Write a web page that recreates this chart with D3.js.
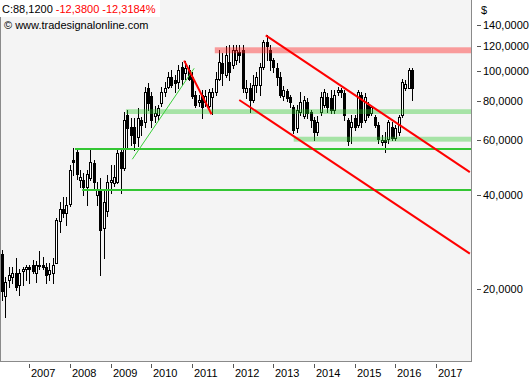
<!DOCTYPE html>
<html><head><meta charset="utf-8">
<script src="https://cdn.jsdelivr.net/npm/d3@7"></script>
<style>
body{margin:0;background:#fff;}
svg{display:block;font-family:"Liberation Sans",Arial,sans-serif;}
</style>
</head><body>
<svg id="c" width="530" height="380"></svg>
<script>
// ---- data (monthly candles, starting May 2006) ----
const firstMonth = [2006, 4];
const opens = [26.0,19.0,21.4,21.9,22.5,20.6,22.9,23.3,23.6,23.9,22.5,24.0,24.0,23.6,22.4,22.5,24.3,33.1,36.0,35.0,
37.5,51.7,55.0,44.7,44.7,42.6,45.3,50.6,40.1,41.6,31.3,35.5,44.2,43.7,44.2,55.1,48.8,72.2,66.3,66.3,
61.5,69.6,68.7,87.9,82.9,71.5,72.2,78.6,85.3,88.5,95.5,93.4,92.0,102.8,98.5,100.5,95.6,83.6,79.2,83.6,
79.2,77.1,82.3,85.5,94.1,105.8,96.9,106.6,104.3,108.2,114.8,116.5,85.5,88.1,80.6,90.0,90.0,102.8,123.6,116.5,
108.2,101.9,95.5,83.0,86.1,82.3,76.3,65.4,73.8,71.6,79.4,73.8,69.6,63.7,73.8,77.7,82.3,81.8,74.9,85.4,
86.8,84.9,69.6,66.3,70.6,67.1,83.6,69.6,77.7,73.3,71.1,67.1,59.3,60.0,60.6,66.3,61.1,63.7,72.2,87.9,
88.1,100.5];
const highs = [26.7,21.9,23.5,23.5,25.1,23.3,23.5,23.9,24.0,24.8,24.7,26.5,25.3,24.2,24.2,25.1,33.8,38.1,39.6,39.6,
49.9,56.6,56.6,48.1,47.0,48.1,55.8,51.8,44.2,45.3,41.6,46.4,49.9,49.9,55.8,55.8,74.0,74.9,70.4,70.4,
75.8,71.1,88.5,91.1,85.2,76.9,77.7,88.5,92.3,99.1,100.5,96.9,104.3,106.6,107.4,104.3,98.8,86.1,83.6,86.8,
86.8,87.5,88.1,98.8,116.5,113.9,120.0,120.9,120.9,120.9,120.9,120.9,93.4,91.3,96.9,98.8,105.8,125.4,129.9,120.9,
109.8,105.8,98.8,89.4,87.5,83.6,77.7,77.7,85.5,83.0,81.8,74.9,71.1,71.6,85.5,87.5,84.6,86.8,86.8,88.8,
88.1,86.8,70.6,72.2,72.2,86.8,85.5,84.6,79.4,77.1,72.2,68.7,62.3,63.7,69.6,68.5,67.1,72.2,94.1,93.4,
101.9,101.9];
const lows = [18.5,16.3,20.4,20.9,19.9,19.2,20.6,21.4,20.9,22.5,21.1,23.3,23.3,20.9,21.4,20.9,24.2,30.6,34.1,32.1,
36.9,46.4,45.2,42.6,40.1,37.2,44.7,41.6,37.2,22.2,25.1,34.2,40.5,42.9,43.8,40.5,48.1,56.5,58.0,55.8,
57.3,62.3,66.3,74.9,66.3,68.7,69.6,76.9,82.9,87.9,88.5,85.2,87.9,90.0,94.1,93.4,81.8,76.3,77.1,70.6,
77.1,76.3,72.5,83.6,93.4,90.0,95.5,93.4,101.9,105.1,106.6,85.5,81.8,73.8,79.4,85.5,83.6,101.1,108.2,100.5,
98.8,90.0,82.3,80.6,79.8,76.3,63.2,63.9,72.2,70.6,70.6,66.3,60.0,62.3,72.2,76.3,73.8,73.3,73.3,83.6,
82.3,69.6,58.0,58.6,64.6,66.3,66.3,68.7,71.1,72.2,66.3,58.6,58.0,55.0,58.6,60.0,60.0,62.3,71.1,86.8,
87.9,80.6];
const closes = [19.7,21.1,22.2,22.5,20.4,22.6,23.2,23.5,23.3,22.9,23.9,23.8,23.5,22.2,23.1,24.0,33.3,36.0,35.0,37.2,
48.1,51.0,46.7,45.6,42.6,46.7,51.2,44.2,41.6,30.9,38.0,44.2,44.7,45.8,54.4,48.8,69.6,65.4,62.3,58.6,
70.4,67.1,85.7,78.6,69.6,73.3,75.8,85.2,87.9,95.5,90.0,91.3,100.5,94.1,101.9,94.1,83.0,77.7,80.6,76.3,
83.0,85.5,85.5,94.1,106.6,98.5,112.3,99.3,116.5,116.5,112.3,88.1,88.1,80.6,90.0,95.2,102.8,123.6,119.9,108.2,
102.8,95.5,83.6,86.8,81.8,79.2,64.6,74.9,79.2,80.6,73.3,69.6,63.9,68.5,82.3,85.5,76.3,74.9,83.6,87.0,
85.2,72.2,59.4,68.5,66.3,85.5,68.5,82.3,72.2,76.3,67.1,60.6,60.0,59.3,68.5,61.1,65.4,71.1,92.0,90.6,
100.5,88.12];

const yearTicks = [2007,2008,2009,2010,2011,2012,2013,2014,2015,2016,2017];
const priceTicks = [20,40,60,80,100,120,140];

// drawn studies
const hLines = [{start:"2008-02-15", value:56.3},{start:"2008-04-20", value:41.5}];
const greenBands = [{start:"2009-05-18", lo:72.7, hi:75.3},{start:"2013-07-03", lo:59.3, hi:61.5}];
const redBands = [{start:"2011-07-25", lo:113.7, hi:118.8}];
const greenTrend = [["2009-07-14",52.1],["2011-01-21",101.8]];
const redTrend = [["2010-10-23",107.7],["2011-06-26",72.6]];
const channelUpper = [["2012-10-25",129.7],["2017-11-01",47.4]];
const channelLower = [["2012-03-01",80.6],["2017-11-01",26.0]];

// ---- layout ----
const svg = d3.select("#c");
const L = 0, R = 471, T = 0, B = 361;
const x = d3.scaleTime().domain([new Date(2007,0,1), new Date(2017,0,1)]).range([29.3, 436]);
const y = d3.scaleLog().domain([20,140]).range([289.3, 25]);
const pd = d3.timeParse("%Y-%m-%d");

svg.append("rect").attr("x",L).attr("y",T).attr("width",R-L).attr("height",B-T).attr("fill","#f4f4f4");
svg.append("clipPath").attr("id","clip").append("rect").attr("x",L+1).attr("y",T).attr("width",R-L-1).attr("height",B-T);
const g = svg.append("g").attr("clip-path","url(#clip)");

const candles = opens.map((o,i)=>({date:new Date(firstMonth[0], firstMonth[1]+i, 1), o, h:highs[i], l:lows[i], c:closes[i]}));

const cg = g.append("g").attr("shape-rendering","crispEdges");
candles.forEach(d=>{
  const cx = Math.round(x(d.date));
  cg.append("line").attr("x1",cx+0.5).attr("x2",cx+0.5)
    .attr("y1",Math.round(y(d.h))).attr("y2",Math.round(y(d.l))+1)
    .attr("stroke","#000").attr("stroke-width",1);
  const top = Math.round(y(Math.max(d.o,d.c))), bot = Math.round(y(Math.min(d.o,d.c)));
  cg.append("rect").attr("x",cx-0.5).attr("y",top+0.5).attr("width",2).attr("height",Math.max(bot-top,1))
    .attr("fill", d.c>=d.o ? "#fff" : "#000").attr("stroke","#000").attr("stroke-width",1);
});

// bands
greenBands.forEach(b=>{
  g.append("rect").attr("x",x(pd(b.start))).attr("width",R-x(pd(b.start)))
   .attr("y",y(b.hi)).attr("height",y(b.lo)-y(b.hi)).attr("fill","rgba(40,200,40,0.38)");
});
redBands.forEach(b=>{
  g.append("rect").attr("x",x(pd(b.start))).attr("width",R-x(pd(b.start)))
   .attr("y",y(b.hi)).attr("height",y(b.lo)-y(b.hi)).attr("fill","rgba(255,30,30,0.42)");
});
// horizontal lines
hLines.forEach(h=>{
  const yy = Math.round(y(h.value));
  g.append("line").attr("x1",x(pd(h.start))).attr("x2",R).attr("y1",yy).attr("y2",yy)
   .attr("stroke","#33c633").attr("stroke-width",2);
});
const line = d3.line().x(p=>x(pd(p[0]))).y(p=>y(p[1]));
g.append("path").attr("d",line(greenTrend)).attr("fill","none").attr("stroke","#3ad03a").attr("stroke-width",1);
[redTrend, channelUpper, channelLower].forEach(t=>{
  g.append("path").attr("d",line(t)).attr("fill","none").attr("stroke","#ff0000").attr("stroke-width",2);
});

// frame
svg.append("path").attr("d",`M${L+0.5},${T}V${B+0.5}H${R+0.5}V${T}`).attr("fill","none")
  .attr("stroke","#8a8a8a").attr("stroke-width",1).attr("shape-rendering","crispEdges");

// x axis (year ticks)
const xa = svg.append("g").attr("shape-rendering","crispEdges");
yearTicks.forEach(yr=>{
  const xx = Math.round(x(new Date(yr,0,1)));
  xa.append("line").attr("x1",xx+0.5).attr("x2",xx+0.5).attr("y1",B+3).attr("y2",B+7).attr("stroke","#555");
  xa.append("text").attr("x",xx+2).attr("y",B+16).attr("font-size",11).attr("fill","#000").text(yr);
});

// y axis (right)
const loc = d3.formatLocale({decimal:",", thousands:".", grouping:[3], currency:["","$"], minus:"-"});
const fmt = loc.format(".4f");
const ya = svg.append("g");
priceTicks.forEach(v=>{
  const yy = Math.round(y(v));
  ya.append("line").attr("x1",R+6).attr("x2",R+10).attr("y1",yy+0.5).attr("y2",yy+0.5).attr("stroke","#555").attr("shape-rendering","crispEdges");
  ya.append("text").attr("x",R+12).attr("y",yy).attr("dy","0.35em").attr("font-size",11).attr("fill","#000").text(fmt(v));
});
ya.append("text").attr("x",R+10).attr("y",14).attr("font-size",11).attr("fill","#000").text("$");

// header
const last = closes[closes.length-1], prev = closes[closes.length-2];
const chg = last-prev, pct = chg/prev*100;
svg.append("rect").attr("x",0).attr("y",0).attr("width",160).attr("height",17).attr("fill","#fff");
const ht = svg.append("text").attr("x",2).attr("y",13).attr("font-size",11);
ht.append("tspan").attr("fill","#000").text("C:"+fmt(last)+" ");
ht.append("tspan").attr("fill","#ff0000").text(fmt(chg)+" "+fmt(pct)+"%");
svg.append("text").attr("x",4).attr("y",29).attr("font-size",11).attr("fill","#000").text("\u00A9 www.tradesignalonline.com");
</script>
</body></html>
